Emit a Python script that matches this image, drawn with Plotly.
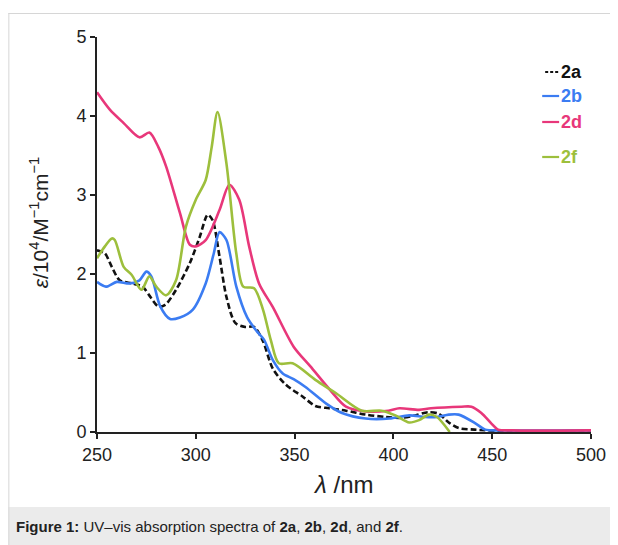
import plotly.graph_objects as go

# ---- data ----
nm_2a = [250, 254, 257.5, 261.5, 268, 273, 277, 281, 284.5, 290, 297, 302, 306, 308.5, 312, 315.5,
         320, 325, 329.5, 334, 339, 345.5, 354, 360.5, 367.5, 376, 386, 396, 404, 411, 417.5, 423,
         428, 433, 441, 460, 500]
eps_2a = [2.30, 2.26, 2.09, 1.92, 1.88, 1.84, 1.71, 1.59, 1.61, 1.80, 2.14, 2.47, 2.75, 2.68, 2.22, 1.71,
          1.38, 1.33, 1.33, 1.15, 0.80, 0.60, 0.45, 0.33, 0.30, 0.27, 0.22, 0.19, 0.18, 0.21, 0.25, 0.23,
          0.12, 0.05, 0.03, 0.01, 0.01]

nm_2b = [250, 254.5, 260, 266.5, 271.5, 275, 277.5, 282, 287, 292, 298.5, 305, 309, 312, 315.5, 320.5,
         326, 331, 334.5, 339, 344, 349.5, 355.5, 366, 374, 386, 398, 408, 416, 422, 428, 433, 441.5,
         446.5, 455, 500]
eps_2b = [1.90, 1.84, 1.90, 1.88, 1.92, 2.03, 1.97, 1.59, 1.43, 1.45, 1.55, 1.88, 2.25, 2.53, 2.43, 1.84,
          1.45, 1.27, 1.17, 0.91, 0.74, 0.67, 0.57, 0.36, 0.24, 0.17, 0.17, 0.21, 0.19, 0.19, 0.22, 0.22, 0.11,
          0.03, 0.02, 0.02]

nm_2d = [250, 256.5, 263.5, 271.5, 276.5, 281, 285, 292, 297, 300, 305, 312, 317, 322, 327, 332, 339,
         349.5, 358, 368, 376, 386, 397.5, 403, 413, 419, 434.5, 439.5, 444.5, 449.5, 453, 460, 500]
eps_2d = [4.30, 4.08, 3.91, 3.73, 3.79, 3.61, 3.36, 2.77, 2.37, 2.35, 2.43, 2.81, 3.13, 2.94, 2.35, 1.88,
          1.58, 1.08, 0.83, 0.53, 0.32, 0.26, 0.27, 0.30, 0.28, 0.30, 0.32, 0.32, 0.24, 0.11, 0.03, 0.02, 0.02]

nm_2f = [250, 254, 257.5, 259, 263.5, 267.5, 272.5, 276.5, 280, 285, 290, 295, 300, 305, 308, 311,
         315.5, 320.5, 324, 329.5, 334, 338, 342, 349, 360.5, 371, 384, 394, 401, 408, 413, 418, 422, 428.5]
eps_2f = [2.20, 2.35, 2.45, 2.43, 2.09, 1.99, 1.80, 1.97, 1.84, 1.73, 1.92, 2.60, 2.94, 3.19, 3.60, 4.05,
          3.40, 2.26, 1.84, 1.82, 1.55, 1.16, 0.87, 0.87, 0.66, 0.49, 0.27, 0.27, 0.21, 0.12, 0.15, 0.22, 0.19, 0.0]

x_ticks = [250, 300, 350, 400, 450, 500]
y_ticks = [0, 1, 2, 3, 4, 5]

series = [
    ("2a", nm_2a, eps_2a, "#111111", "dash"),
    ("2b", nm_2b, eps_2b, "#3b7cf2", "solid"),
    ("2d", nm_2d, eps_2d, "#e8377a", "solid"),
    ("2f", nm_2f, eps_2f, "#9dbf3c", "solid"),
]

FONT = "Arial, Liberation Sans, Helvetica, sans-serif"
OFF = 8  # page body margin
W, H = 618 - OFF, 545 - OFF
L, R, T, B = 97 - OFF, 25, 37 - OFF, 113
PW, PH = W - L - R, H - T - B


def px(x):  # page pixel -> paper
    return (x - OFF - L) / PW


def py(y):
    return (H - B - (y - OFF)) / PH


fig = go.Figure()
for name, xs, ys, col, dash in series:
    fig.add_trace(go.Scatter(x=xs, y=ys, mode="lines", name=name,
                             line=dict(color=col, width=2.6, dash="6px,3px" if dash == "dash" else "solid",
                                       shape="spline", smoothing=0.8),
                             showlegend=False))

shapes = []
annotations = []
# frame and caption band
shapes.append(dict(type="rect", xref="paper", yref="paper", x0=px(8), x1=px(620), y0=py(507), y1=py(547),
                   fillcolor="#ebebeb", line=dict(width=0), layer="below"))
shapes.append(dict(type="line", xref="paper", yref="paper", x0=px(8.5), x1=px(8.5), y0=py(13), y1=py(547),
                   line=dict(color="#d6d6d6", width=1)))
shapes.append(dict(type="line", xref="paper", yref="paper", x0=px(8), x1=px(620), y0=py(13.5), y1=py(13.5),
                   line=dict(color="#d6d6d6", width=1)))

# legend
leg_y = [72, 96, 122, 157]
for (name, xs, ys, col, dash), ly in zip(series, leg_y):
    shapes.append(dict(type="line", xref="paper", yref="paper", x0=px(544 if dash == "solid" else 547),
                       x1=px(561), y0=py(ly), y1=py(ly),
                       line=dict(color=col, width=2.2, dash="3px,2px" if dash == "dash" else "solid")))
    annotations.append(dict(xref="paper", yref="paper", x=px(561), y=py(ly), xanchor="left", yanchor="middle",
                            text="<b>%s</b>" % name, showarrow=False,
                            font=dict(family=FONT, size=18, color=col)))

# axis titles
annotations.append(dict(xref="paper", yref="paper", x=px(39), y=py(223), xanchor="center", yanchor="middle",
                        text="<i>ε</i>/10<sup>4</sup>/M<sup>−1</sup>cm<sup>−1</sup>", textangle=-90,
                        showarrow=False, font=dict(family=FONT, size=21, color="#222")))
annotations.append(dict(xref="paper", yref="paper", x=px(344), y=py(484), xanchor="center", yanchor="middle",
                        text="<i>λ</i> /nm", showarrow=False, font=dict(family=FONT, size=24, color="#222")))
# caption
annotations.append(dict(xref="paper", yref="paper", x=px(14), y=py(526), xanchor="left", yanchor="middle",
                        text="<b>Figure 1:</b> UV–vis absorption spectra of <b>2a</b>, <b>2b</b>, <b>2d</b>, and <b>2f</b>.",
                        showarrow=False, font=dict(family=FONT, size=15, color="#222")))

fig.update_layout(
    width=W, height=H, margin=dict(l=L, r=R, t=T, b=B, pad=0),
    paper_bgcolor="white", plot_bgcolor="white",
    font=dict(family=FONT, color="#222"),
    shapes=shapes, annotations=annotations,
    xaxis=dict(range=[250, 500], tickvals=x_ticks, ticktext=[str(v) for v in x_ticks],
               showgrid=False, zeroline=False, showline=True, linecolor="#222", linewidth=2,
               ticks="outside", ticklen=5, tickwidth=1.5, tickcolor="#222",
               tickfont=dict(size=18, family=FONT, color="#222")),
    yaxis=dict(range=[0, 5], tickvals=y_ticks, ticktext=[str(v) for v in y_ticks],
               showgrid=False, zeroline=False, showline=True, linecolor="#222", linewidth=2,
               ticks="outside", ticklen=5, tickwidth=1.5, tickcolor="#222",
               tickfont=dict(size=18, family=FONT, color="#222")),
)

fig.write_html("out.html")
